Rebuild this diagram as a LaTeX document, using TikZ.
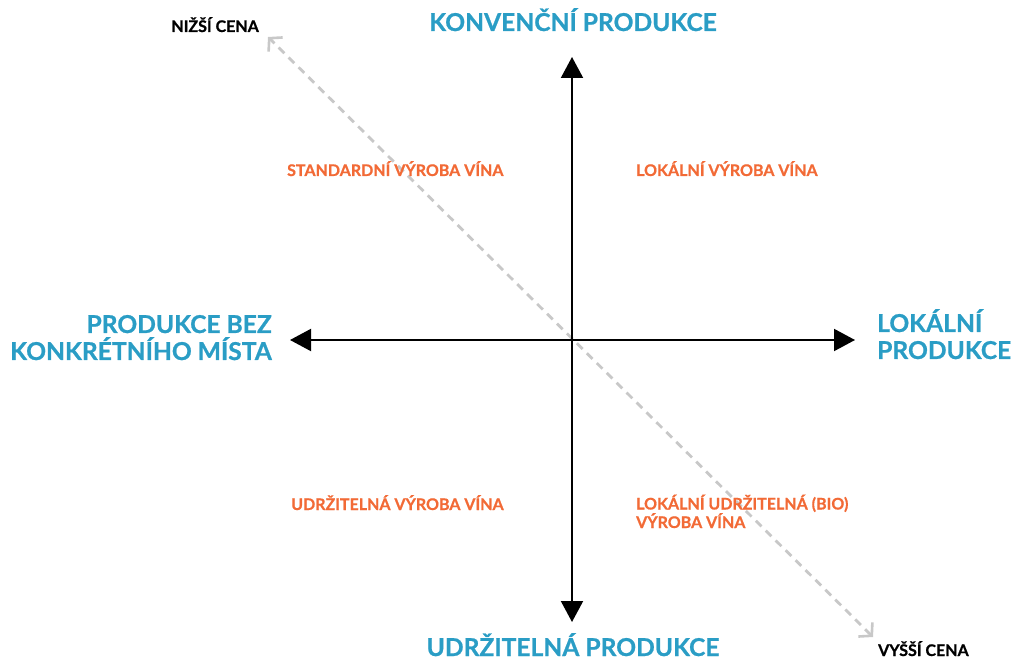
\documentclass[tikz,border=0pt]{standalone}
\usepackage{fontspec}
\setmainfont{Lato}[BoldFeatures={FakeBold=0.8}]
\usetikzlibrary{arrows.meta}
\definecolor{axblue}{HTML}{2A9DC5}
\definecolor{qorange}{HTML}{F26A36}
\definecolor{dgray}{HTML}{C8C8C8}
\begin{document}
\begin{tikzpicture}[x=1pt,y=1pt,
  axis/.style={line width=2pt, black, {Triangle[length=21pt,width=22pt]}-{Triangle[length=21pt,width=22pt]}},
  price/.style={line width=2.8pt, dgray, dash pattern=on 8pt off 6pt,
    {Straight Barb[length=9pt,width=20pt,line width=2.6pt]}-{Straight Barb[length=9pt,width=20pt,line width=2.6pt]}},
  bluelbl/.style={inner sep=0pt, text=axblue, font=\bfseries\fontsize{24.6}{27}\selectfont},
  quadlbl/.style={inner sep=0pt, text=qorange, font=\bfseries\fontsize{16}{18.5}\selectfont},
  pricelbl/.style={inner sep=0pt, text=black, font=\bfseries\fontsize{16}{18}\selectfont}]
\useasboundingbox (0,0) rectangle (1012,662);
% axes
\coordinate (O) at (572,322);
\coordinate (top) at (572,605);
\coordinate (bot) at (572,40);
\coordinate (lft) at (290,322);
\coordinate (rgt) at (855,322);
\coordinate (pa) at (268,625);
\coordinate (pb) at (873,25);
\draw[price] (pb) -- (pa);
\draw[axis] (bot) -- (top);
\draw[axis] (lft) -- (rgt);
% axis labels
\node[bluelbl, anchor=base] (conv) at (573,631) {KONVENČNÍ PRODUKCE};
\node[bluelbl, anchor=base] (udr) at (573,6) {UDRŽITELNÁ PRODUKCE};
\node[bluelbl, anchor=base east, align=right] (bez) at (272,302) {PRODUKCE BEZ\\KONKRÉTNÍHO MÍSTA};
\node[bluelbl, anchor=base west, align=left] (lok) at (877,303) {LOKÁLNÍ\\PRODUKCE};
% price labels
\node[pricelbl, anchor=base east] (nizsi) at (259,630) {NIŽŠÍ CENA};
\node[pricelbl, anchor=base west] (vyssi) at (878,6) {VYŠŠÍ CENA};
% quadrant labels
\node[quadlbl, anchor=base west] (q1) at (287,486) {STANDARDNÍ VÝROBA VÍNA};
\node[quadlbl, anchor=base west] (q2) at (636,486) {LOKÁLNÍ VÝROBA VÍNA};
\node[quadlbl, anchor=base west] (q3) at (291,152) {UDRŽITELNÁ VÝROBA VÍNA};
\node[quadlbl, anchor=base west, align=left] (q4) at (636,134) {LOKÁLNÍ UDRŽITELNÁ (BIO)\\VÝROBA VÍNA};
\end{tikzpicture}
\end{document}
